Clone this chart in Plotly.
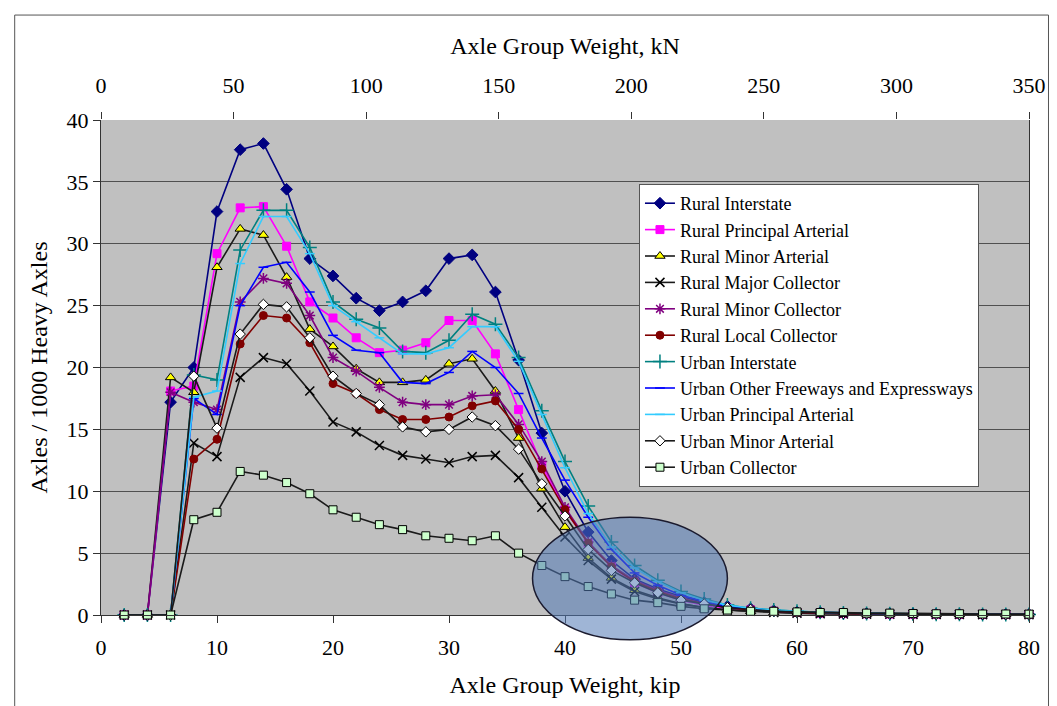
import plotly.graph_objects as go

# ---------------- data ----------------
weight_kip = [2, 4, 6, 8, 10, 12, 14, 16, 18, 20, 22, 24, 26, 28, 30, 32, 34, 36, 38, 40,
              42, 44, 46, 48, 50, 52, 54, 56, 58, 60, 62, 64, 66, 68, 70, 72, 74, 76, 78, 80]

rural_interstate = [0, 0, 17.2, 20.0, 32.6, 37.6, 38.1, 34.4, 28.8, 27.4, 25.6, 24.6, 25.3, 26.2, 28.8, 29.1, 26.1, 20.6, 14.7, 10.0,
                    6.7, 4.4, 2.9, 2.1, 1.5, 1.0, 0.7, 0.5, 0.35, 0.25, 0.2, 0.15, 0.12, 0.1, 0.1, 0.08, 0.07, 0.06, 0.05, 0.05]
rural_principal_arterial = [0, 0, 18.1, 18.5, 29.2, 32.9, 33.0, 29.8, 25.3, 24.0, 22.4, 21.2, 21.4, 22.0, 23.8, 23.8, 21.1, 16.6, 12.1, 8.5,
                            5.8, 3.9, 2.6, 1.8, 1.2, 0.8, 0.55, 0.4, 0.3, 0.2, 0.15, 0.12, 0.1, 0.08, 0.07, 0.06, 0.05, 0.05, 0.04, 0.04]
rural_minor_arterial = [0, 0, 19.2, 18.0, 28.1, 31.2, 30.7, 27.3, 23.1, 21.7, 19.9, 18.8, 18.8, 19.0, 20.3, 20.7, 18.1, 14.3, 10.2, 7.1,
                        4.6, 3.0, 2.0, 1.4, 0.9, 0.6, 0.4, 0.3, 0.2, 0.15, 0.12, 0.1, 0.08, 0.07, 0.06, 0.05, 0.05, 0.04, 0.04, 0.03]
rural_major_collector = [0, 0, 0, 13.9, 12.8, 19.2, 20.8, 20.3, 18.1, 15.6, 14.8, 13.7, 12.9, 12.6, 12.3, 12.8, 12.9, 11.1, 8.7, 6.3,
                         4.4, 2.9, 1.9, 1.3, 0.9, 0.6, 0.4, 0.3, 0.2, 0.15, 0.1, 0.08, 0.07, 0.06, 0.05, 0.04, 0.04, 0.03, 0.03, 0.03]
rural_minor_collector = [0, 0, 18.0, 17.2, 16.6, 25.3, 27.2, 26.8, 24.2, 20.8, 19.7, 18.4, 17.2, 17.0, 17.0, 17.7, 17.8, 15.4, 12.4, 8.7,
                         5.9, 4.0, 2.8, 2.0, 1.4, 0.9, 0.6, 0.45, 0.3, 0.22, 0.17, 0.13, 0.1, 0.08, 0.07, 0.06, 0.05, 0.05, 0.04, 0.04]
rural_local_collector = [0, 0, 0, 12.6, 14.2, 21.9, 24.2, 24.0, 22.0, 18.7, 17.9, 16.6, 15.8, 15.8, 16.0, 16.9, 17.3, 15.0, 11.8, 8.5,
                         5.8, 3.9, 2.7, 1.9, 1.3, 0.9, 0.6, 0.4, 0.3, 0.2, 0.15, 0.12, 0.1, 0.08, 0.07, 0.06, 0.05, 0.05, 0.04, 0.04]
urban_interstate = [0, 0, 0, 19.4, 19.0, 29.5, 32.7, 32.7, 29.7, 25.3, 23.9, 23.2, 21.3, 21.2, 22.2, 24.3, 23.5, 20.8, 16.5, 12.4,
                    8.8, 5.9, 4.0, 2.8, 1.9, 1.3, 0.8, 0.55, 0.4, 0.3, 0.22, 0.17, 0.13, 0.1, 0.08, 0.07, 0.06, 0.05, 0.05, 0.04]
urban_other_freeways = [0, 0, 0, 17.5, 16.2, 25.0, 28.1, 28.5, 26.1, 22.6, 21.4, 21.2, 18.8, 18.7, 19.6, 21.3, 20.0, 17.9, 14.3, 10.9,
                        7.9, 5.3, 3.4, 2.4, 1.6, 1.1, 0.7, 0.5, 0.35, 0.25, 0.2, 0.15, 0.12, 0.1, 0.08, 0.07, 0.06, 0.05, 0.05, 0.04]
urban_principal_arterial = [0, 0, 0, 17.6, 18.1, 28.4, 32.2, 32.2, 29.2, 25.0, 23.7, 22.4, 21.1, 21.1, 21.6, 23.3, 23.3, 20.5, 16.2, 11.9,
                            8.2, 5.5, 3.8, 2.7, 1.8, 1.2, 0.8, 0.55, 0.4, 0.3, 0.22, 0.17, 0.13, 0.1, 0.08, 0.07, 0.06, 0.05, 0.05, 0.04]
urban_minor_arterial = [0, 0, 0, 19.3, 15.1, 22.7, 25.1, 24.9, 22.4, 19.3, 17.9, 17.0, 15.2, 14.8, 15.0, 16.0, 15.3, 13.4, 10.6, 8.0,
                        5.3, 3.6, 2.6, 1.8, 1.2, 0.9, 0.6, 0.45, 0.3, 0.22, 0.17, 0.13, 0.1, 0.08, 0.07, 0.06, 0.05, 0.05, 0.04, 0.04]
urban_collector = [0, 0, 0, 7.7, 8.3, 11.6, 11.3, 10.7, 9.8, 8.5, 7.9, 7.3, 6.9, 6.4, 6.2, 6.0, 6.4, 5.0, 4.0, 3.1,
                   2.3, 1.7, 1.2, 1.0, 0.7, 0.5, 0.4, 0.3, 0.3, 0.25, 0.2, 0.2, 0.15, 0.15, 0.12, 0.1, 0.1, 0.08, 0.08, 0.07]

kip_ticks = [0, 10, 20, 30, 40, 50, 60, 70, 80]
kn_ticks = [0, 50, 100, 150, 200, 250, 300, 350]
y_ticks = [0, 5, 10, 15, 20, 25, 30, 35, 40]

# (name, values, line color, marker symbol, marker fill, marker outline, marker size)
series = [
    ("Rural Interstate", rural_interstate, "#000080", "diamond", "#000080", "#000080", 9),
    ("Rural Principal Arterial", rural_principal_arterial, "#FF00FF", "square", "#FF00FF", "#FF00FF", 8),
    ("Rural Minor Arterial", rural_minor_arterial, "#1a1a1a", "triangle-up", "#FFFF00", "#000000", 9),
    ("Rural Major Collector", rural_major_collector, "#1a1a1a", "x-thin-open", "#000000", "#000000", 9),
    ("Rural Minor Collector", rural_minor_collector, "#800080", "asterisk-open", "#800080", "#800080", 9),
    ("Rural Local Collector", rural_local_collector, "#800000", "circle", "#800000", "#800000", 8),
    ("Urban Interstate", urban_interstate, "#008080", "cross-thin-open", "#008080", "#008080", 10),
    ("Urban Other Freeways and Expressways", urban_other_freeways, "#0000FF", "line-ew-open", "#0000FF", "#0000FF", 7),
    ("Urban Principal Arterial", urban_principal_arterial, "#33CCFF", "line-ew-open", "#33CCFF", "#33CCFF", 7),
    ("Urban Minor Arterial", urban_minor_arterial, "#1a1a1a", "diamond", "#FFFFFF", "#000000", 8),
    ("Urban Collector", urban_collector, "#1a1a1a", "square", "#CCFFCC", "#000000", 8),
]

FONT = "Liberation Serif, Times New Roman, serif"
X_RANGE = [0, 80]
Y_RANGE = [0, 40]

fig = go.Figure()
for name, vals, lc, sym, fill, outline, size in series:
    fig.add_trace(go.Scatter(
        x=weight_kip, y=vals, name=name, mode="lines+markers",
        line=dict(color=lc, width=1.6),
        marker=dict(symbol=sym, size=size, color=fill,
                    line=dict(color=outline, width=1.5 if sym.endswith("open") else 1)),
        cliponaxis=False,
    ))

# dummy trace to activate the top (kN) axis
fig.add_trace(go.Scatter(x=[kn_ticks[0]], y=[0], xaxis="x2", mode="markers",
                         marker=dict(opacity=0), showlegend=False, hoverinfo="skip"))

# highlighted ellipse (converted from kip / axle units to paper units)
ell_x = [37.2, 54.0]
ell_y = [-2.0, 7.9]
def px(v):
    return (v - X_RANGE[0]) / (X_RANGE[1] - X_RANGE[0])
def py(v):
    return (v - Y_RANGE[0]) / (Y_RANGE[1] - Y_RANGE[0])

fig.add_shape(type="circle", xref="paper", yref="paper",
              x0=px(ell_x[0]), x1=px(ell_x[1]), y0=py(ell_y[0]), y1=py(ell_y[1]),
              fillcolor="rgba(80,120,180,0.55)", line=dict(color="#1a1a2e", width=1.5),
              layer="above")

# outer frame of the chart
fig.add_shape(type="rect", xref="paper", yref="paper",
              x0=-0.093, x1=1.021, y0=-0.25, y1=1.212,
              line=dict(color="#555555", width=1), fillcolor="rgba(0,0,0,0)", layer="below")

fig.update_layout(
    width=1057, height=706,
    margin=dict(l=101, r=28, t=120, b=91),
    paper_bgcolor="white", plot_bgcolor="#C0C0C0",
    font=dict(family=FONT, color="black", size=22),
    showlegend=True,
    legend=dict(x=0.5797, y=0.8707, xanchor="left", yanchor="top",
                bgcolor="white", bordercolor="#555555", borderwidth=1,
                font=dict(family=FONT, size=18, color="black"),
                itemwidth=30, entrywidth=330, entrywidthmode="pixels"),
    xaxis=dict(range=X_RANGE, tickvals=kip_ticks, showgrid=False, zeroline=False,
               showline=True, linecolor="#333333", linewidth=1, mirror=False,
               ticks="outside", ticklen=7, tickcolor="#333333", ticklabelstandoff=6,
               title=dict(text="Axle Group Weight, kip", font=dict(size=24), standoff=16),
               tickfont=dict(size=22)),
    xaxis2=dict(range=[0, 350], tickvals=kn_ticks, overlaying="x", side="top",
                showgrid=False, zeroline=False, showline=False,
                ticks="outside", ticklen=7, tickcolor="#333333", ticklabelstandoff=10,
                title=dict(text="Axle Group Weight, kN", font=dict(size=24), standoff=11),
                tickfont=dict(size=22)),
    yaxis=dict(range=Y_RANGE, tickvals=y_ticks, showgrid=True, gridcolor="#505050", gridwidth=1,
               zeroline=False, showline=True, linecolor="#333333", linewidth=1, mirror=True,
               ticks="outside", ticklen=7, tickcolor="#333333",
               title=dict(text="Axles / 1000 Heavy Axles", font=dict(size=24), standoff=12),
               tickfont=dict(size=22)),
)

fig.write_html("out.html")
